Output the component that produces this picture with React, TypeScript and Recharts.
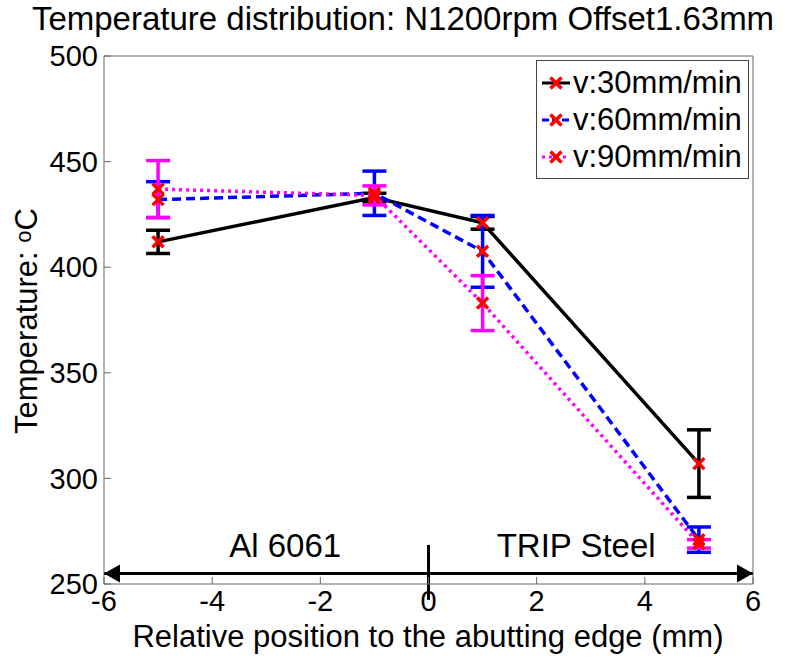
import React from "react";
import {
  LineChart,
  Line,
  XAxis,
  YAxis,
  ErrorBar,
  ReferenceLine,
  ReferenceDot,
} from "recharts";

/* ---------------- Measured data ---------------- */

const POSITIONS = [-5, -1, 1, 5];

const TEMP_30 = [412, 433, 421, 307];
const ERR_30 = [5.5, 2, 3, 16];

const TEMP_60 = [432, 435, 407.5, 271];
const ERR_60 = [8.5, 10.5, 17, 6];

const TEMP_90 = [437, 434, 383, 269];
const ERR_90 = [13.5, 4.5, 13, 2];

const X_TICKS = [-6, -4, -2, 0, 2, 4, 6];
const Y_TICKS = [250, 300, 350, 400, 450, 500];

const SERIES = [
  { key: "v30", err: "e30", name: "v:30mm/min", color: "#000000", dash: undefined },
  { key: "v60", err: "e60", name: "v:60mm/min", color: "#0000ff", dash: "9 5" },
  { key: "v90", err: "e90", name: "v:90mm/min", color: "#ff00ff", dash: "3 4" },
];

// material regions under the curve
const REGION_LABELS = [
  { text: "Al 6061", x: -2.65, y: 263 },
  { text: "TRIP Steel", x: 2.73, y: 263 },
];
const ARROW_Y = 255;

const FONT = '"Liberation Sans", Arial, Helvetica, sans-serif';

const data = POSITIONS.map((x, i) => ({
  x,
  v30: TEMP_30[i],
  e30: ERR_30[i],
  v60: TEMP_60[i],
  e60: ERR_60[i],
  v90: TEMP_90[i],
  e90: ERR_90[i],
}));

/* ---------------- Small shapes ---------------- */

const RedCross = (props: any) => {
  const { cx, cy } = props;
  if (cx == null || cy == null) return null;
  const s = 5.5;
  return (
    <g stroke="#ff0000" strokeWidth={3.5}>
      <line x1={cx - s} y1={cy - s} x2={cx + s} y2={cy + s} />
      <line x1={cx - s} y1={cy + s} x2={cx + s} y2={cy - s} />
    </g>
  );
};

const ArrowHead = (dir: 1 | -1) => (props: any) => {
  const { cx, cy } = props;
  return (
    <polygon
      points={`${cx},${cy} ${cx - dir * 16},${cy - 9} ${cx - dir * 16},${cy + 9}`}
      fill="#000"
    />
  );
};

const RegionText = (text: string) => (props: any) => (
  <text
    x={props.cx}
    y={props.cy}
    textAnchor="middle"
    fontSize={33}
    fontFamily={FONT}
    fill="#000"
  >
    {text}
  </text>
);

const LegendBox = () => (
  <div
    style={{
      position: "absolute",
      left: 536,
      top: 60,
      border: "1px solid #444",
      background: "#fff",
      padding: "3px 6px 3px 4px",
      fontFamily: FONT,
      fontSize: 31,
      lineHeight: "37px",
    }}
  >
    {SERIES.map((s) => (
      <div key={s.key} style={{ display: "flex", alignItems: "center" }}>
        <svg width={30} height={20}>
          <line
            x1={1}
            y1={10}
            x2={29}
            y2={10}
            stroke={s.color}
            strokeWidth={3}
            strokeDasharray={s.dash ? (s.dash === "3 4" ? "3 4" : "7 3") : undefined}
          />
          <RedCross cx={15} cy={10} />
        </svg>
        <span style={{ marginLeft: 2 }}>{s.name}</span>
      </div>
    ))}
  </div>
);

export default function App() {
  return (
    <div
      style={{
        position: "fixed",
        left: 0,
        top: 0,
        width: 792,
        height: 658,
        background: "#fff",
        fontFamily: FONT,
      }}
    >
      {/* Title */}
      <div
        style={{
          position: "absolute",
          left: 403,
          top: 19,
          transform: "translate(-50%, -50%)",
          whiteSpace: "nowrap",
          fontSize: 33,
          lineHeight: "38px",
        }}
      >
        Temperature distribution: N1200rpm Offset1.63mm
      </div>

      {/* Y label */}
      <div
        style={{
          position: "absolute",
          left: 25,
          top: 321,
          transform: "translate(-50%, -50%) rotate(-90deg)",
          whiteSpace: "nowrap",
          fontSize: 31,
          lineHeight: "34px",
        }}
      >
        Temperature: <sup style={{ fontSize: 22, verticalAlign: "6px" }}>o</sup>C
      </div>

      {/* X label */}
      <div
        style={{
          position: "absolute",
          left: 428,
          top: 637,
          transform: "translate(-50%, -50%)",
          whiteSpace: "nowrap",
          fontSize: 31,
          lineHeight: "34px",
        }}
      >
        Relative position to the abutting edge (mm)
      </div>

      <LineChart
        width={792}
        height={658}
        data={data}
        margin={{ top: 55, right: 38, bottom: 0, left: 0 }}
        style={{ position: "absolute", left: 0, top: 0 }}
      >
        <XAxis
          xAxisId="b"
          dataKey="x"
          type="number"
          domain={[-6, 6]}
          ticks={X_TICKS}
          allowDataOverflow
          orientation="bottom"
          height={74}
          stroke="#666"
          tickSize={-7}
          tickMargin={13}
          tick={{ fill: "#000", fontSize: 29, fontFamily: FONT }}
        />
        <XAxis
          xAxisId="t"
          dataKey="x"
          type="number"
          domain={[-6, 6]}
          ticks={X_TICKS}
          orientation="top"
          height={1}
          stroke="#666"
          tickSize={-7}
          tick={false}
        />
        <YAxis
          yAxisId="l"
          type="number"
          domain={[250, 500]}
          ticks={Y_TICKS}
          allowDataOverflow
          orientation="left"
          width={104}
          stroke="#666"
          tickSize={-7}
          tickMargin={13}
          tick={{ fill: "#000", fontSize: 29, fontFamily: FONT }}
        />
        <YAxis
          yAxisId="r"
          type="number"
          domain={[250, 500]}
          ticks={Y_TICKS}
          orientation="right"
          width={1}
          stroke="#666"
          tickSize={-7}
          tick={false}
        />

        {/* Region arrow and divider */}
        <ReferenceLine
          xAxisId="b"
          yAxisId="l"
          segment={[
            { x: -6, y: ARROW_Y },
            { x: 6, y: ARROW_Y },
          ]}
          stroke="#000"
          strokeWidth={3}
          ifOverflow="visible"
        />
        <ReferenceLine
          xAxisId="b"
          yAxisId="l"
          segment={[
            { x: 0, y: 268.5 },
            { x: 0, y: 242.5 },
          ]}
          stroke="#000"
          strokeWidth={3}
          ifOverflow="visible"
        />
        <ReferenceDot
          xAxisId="b"
          yAxisId="l"
          x={-6}
          y={ARROW_Y}
          ifOverflow="visible"
          shape={ArrowHead(-1)}
        />
        <ReferenceDot
          xAxisId="b"
          yAxisId="l"
          x={6}
          y={ARROW_Y}
          ifOverflow="visible"
          shape={ArrowHead(1)}
        />
        {REGION_LABELS.map((r) => (
          <ReferenceDot
            key={r.text}
            xAxisId="b"
            yAxisId="l"
            x={r.x}
            y={r.y}
            ifOverflow="visible"
            shape={RegionText(r.text)}
          />
        ))}

        {SERIES.map((s) => (
          <Line
            key={s.key}
            xAxisId="b"
            yAxisId="l"
            dataKey={s.key}
            name={s.name}
            type="linear"
            stroke={s.color}
            strokeWidth={3.5}
            strokeDasharray={s.dash}
            dot={<RedCross />}
            activeDot={false}
            isAnimationActive={false}
          >
            <ErrorBar
              dataKey={s.err}
              direction="y"
              width={12}
              stroke={s.color}
              strokeWidth={3.5}
              isAnimationActive={false}
            />
          </Line>
        ))}
      </LineChart>

      <LegendBox />
    </div>
  );
}
